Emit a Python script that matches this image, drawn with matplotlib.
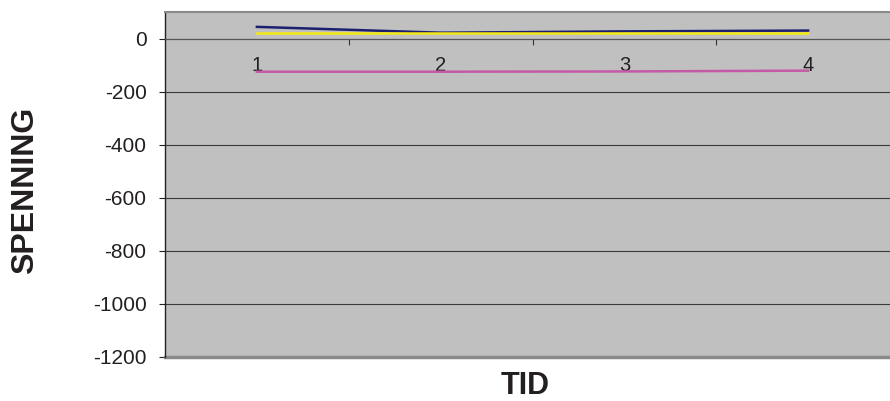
import matplotlib.pyplot as plt
import numpy as np

plt.rcParams['font.family'] = ['Liberation Sans', 'DejaVu Sans']

# data
tid = [1, 2, 3, 4]
serie_bla = [44, 22, 27, 30]
serie_gul = [19, 19, 19, 19]
serie_rosa = [-125, -125, -124, -121]
y_ticks = [0, -200, -400, -600, -800, -1000, -1200]

fig = plt.figure(figsize=(8.9, 4.01), dpi=100)
ax = fig.add_axes([165 / 890, 44 / 401, 735 / 890, 345 / 401])
ax.set_facecolor("#C0C0C0")

ax.plot(tid, serie_bla, color="#1C1F6E", lw=1.8, zorder=3)
ax.plot(tid, serie_gul, color="#F5EA14", lw=1.8, zorder=3)
ax.plot(tid, serie_rosa, color="#C45AA5", lw=1.8, zorder=3)

ax.set_xlim(0.5, 4.5)
ax.set_ylim(-1200, 100)

# y-akse
ax.set_yticks(y_ticks)
ax.set_yticklabels([str(v) for v in y_ticks], fontsize=15, color="#231F20")
ax.tick_params(axis="y", length=4.3, width=0.8, pad=9, color="#222222")
ax.yaxis.grid(True, color="#3A3A3A", lw=0.8)
ax.set_axisbelow(True)

# x-akse krysser ved 0
ax.spines["bottom"].set_position(("data", 0))
ax.spines["bottom"].set_color("#555555")
ax.spines["bottom"].set_linewidth(0.8)
ax.set_xticks(tid)
ax.set_xticklabels([str(v) for v in tid], fontsize=14.5, color="#231F20")
ax.set_xticks([1.5, 2.5, 3.5], minor=True)
ax.tick_params(axis="x", which="major", length=0, pad=12.5)
ax.tick_params(axis="x", which="minor", length=4.3, width=0.8, color="#333333")

ax.spines["left"].set_color("#222222")
ax.spines["left"].set_linewidth(1.0)
ax.spines["top"].set_color("#8A8A8A")
ax.spines["top"].set_linewidth(1.5)
ax.spines["right"].set_visible(False)
ax.axhline(-1200, color="#8A8A8A", lw=2.5, zorder=2, clip_on=False)

fig.text(25 / 890, 1 - 190 / 401, "SPENNING", rotation=90, fontsize=23,
         fontweight="bold", ha="center", va="center", color="#231F20")
fig.text(525 / 890, 1 - 386 / 401, "TID", fontsize=22, fontweight="bold",
         ha="center", va="center", color="#231F20")

fig.savefig("out.png", dpi=100)
